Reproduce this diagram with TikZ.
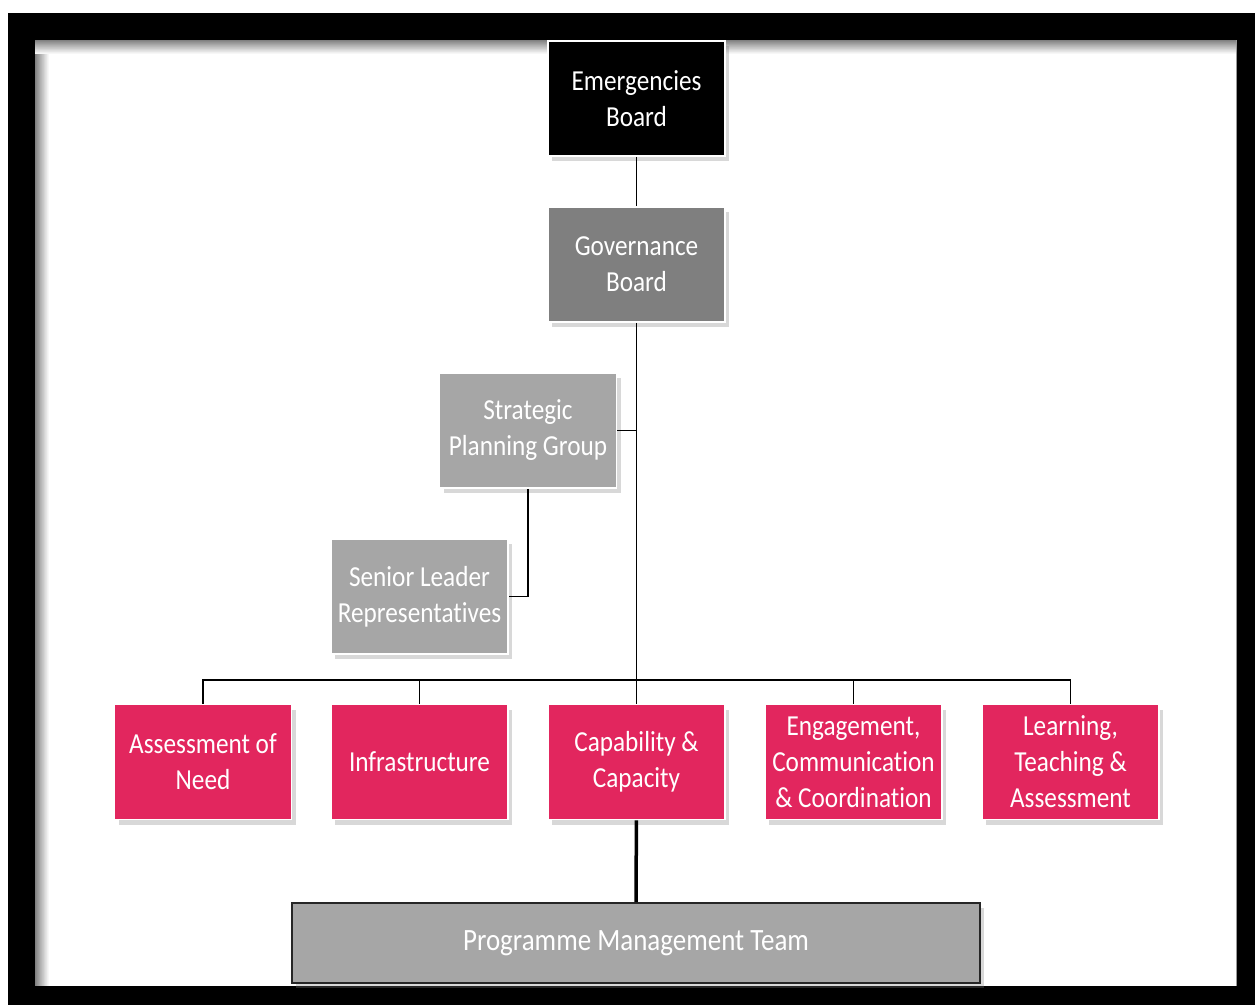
\documentclass[tikz,border=0pt]{standalone}
\usepackage{fontspec}
\setmainfont{Carlito}[FakeStretch=0.87, Ligatures=NoCommon]
\usetikzlibrary{shadows}

\definecolor{pinkbox}{RGB}{226,38,94}
\definecolor{darkgrey}{RGB}{127,127,127}
\definecolor{lightgrey}{RGB}{166,166,166}

\begin{document}
\begin{tikzpicture}[%
    x=1pt,
    y=-1pt,
    box/.style={
      rectangle,
      draw=white,
      line width=1.5pt,
      text=white,
      align=center,
      inner sep=0pt,
      minimum width=177pt,
      minimum height=115pt,
      font=\fontsize{29}{36}\selectfont,
      drop shadow={shadow xshift=4pt, shadow yshift=-5pt, opacity=0.3}
    },
    board/.style={box, fill=black},
    group/.style={box, fill=darkgrey},
    panel/.style={box, fill=lightgrey},
    stream/.style={box, fill=pinkbox},
    team/.style={
      rectangle,
      draw=black!85,
      line width=2pt,
      fill=lightgrey,
      text=white,
      inner sep=0pt,
      minimum width=688pt,
      minimum height=80pt,
      font=\fontsize{31}{36}\selectfont,
      drop shadow={shadow xshift=4pt, shadow yshift=-5pt, opacity=0.3}
    },
    line/.style={
      draw=black,
      line width=1.5pt
    },
    thickline/.style={
      draw=black,
      line width=3.5pt
    }
  ]
    \useasboundingbox (0,0) rectangle (1255,1005);
    % frame
    \fill[black] (8,13) rectangle (1255,1005);
    \fill[white] (35,40) rectangle (1237,986);
    \foreach \i in {0,...,13} {
      \pgfmathsetmacro\fade{int(50-3.6*\i)}
      \draw[black!\fade, line width=1pt] (35,40.5+\i) -- (1237,40.5+\i);
      \draw[black!\fade, line width=1pt] (35.5+\i,40+\i) -- (35.5+\i,986);
    }
    \draw[black!40, line width=1pt] (1236.5,40) -- (1236.5,986);

    % top of the tree
    \draw (636.5,98.5) node[board] (emerg) {Emergencies\\Board};
    \draw (636.5,264.5) node[group] (gov) {Governance\\Board};
    \draw (528,430.5) node[panel] (spg) {Strategic\\Planning Group};
    \draw (419.5,596.5) node[panel] (slr) {Senior Leader\\Representatives};

    % workstreams
    \draw (203,762) node[stream] (assess) {Assessment of\\Need};
    \draw (419.5,762) node[stream] (infra) {Infrastructure};
    \draw (636.5,762) node[stream] (capab) {Capability \&\\Capacity};
    \draw (853.5,762) node[stream] (engage) {Engagement,\\Communication\\\& Coordination};
    \draw (1070.5,762) node[stream] (learn) {Learning,\\Teaching \&\\Assessment};

    \draw (636,943) node[team] (pmt) {\raisebox{-3pt}{Programme Management Team}};

    % connectors
    \coordinate (bus) at (636.5,680);
    \path[line] (emerg) -- (gov);
    \path[line] (gov) -- (bus);
    \path[line] (spg) -- (spg -| gov);
    \path[line] (spg) |- (slr);
    \foreach \n in {assess,infra,capab,engage,learn}
      \path[line] (bus) -| (\n);
    \path[thickline] (capab) -- (pmt);
  \end{tikzpicture}
\end{document}
